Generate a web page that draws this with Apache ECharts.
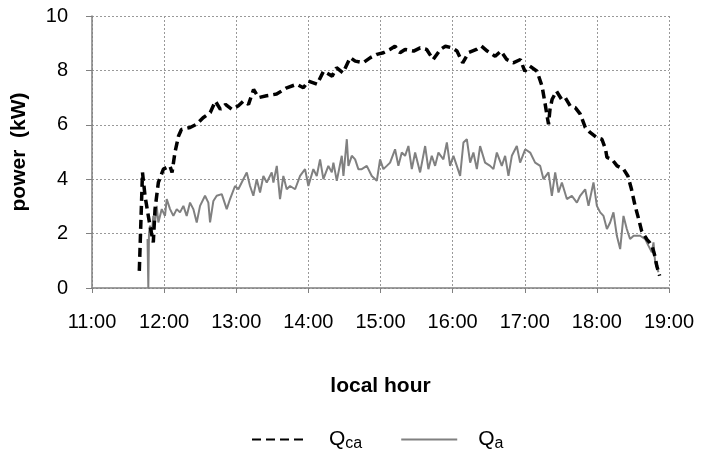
<!DOCTYPE html>
<html>
<head>
<meta charset="utf-8">
<script src="https://cdn.jsdelivr.net/npm/echarts@6/dist/echarts.min.js"></script>
<style>
  html, body { margin: 0; padding: 0; background: #fff; }
  #chart { width: 701px; height: 458px; }
</style>
</head>
<body>
<div id="chart"></div>
<script>
// time axis ticks (hours)
var hourTicks = [11, 12, 13, 14, 15, 16, 17, 18, 19];

// Qca - dashed black
var caHours = [11.656, 11.70, 11.735, 11.781, 11.804, 11.85, 11.874, 11.92, 11.99, 12.08, 12.11, 12.15, 12.20, 12.24, 12.36, 12.45, 12.54, 12.64, 12.71, 12.78, 12.85, 12.94, 13.03, 13.10, 13.17, 13.24, 13.31, 13.42, 13.56, 13.70, 13.84, 13.93, 14.00, 14.12, 14.21, 14.33, 14.39, 14.48, 14.58, 14.65, 14.76, 14.86, 14.95, 15.04, 15.13, 15.20, 15.27, 15.34, 15.46, 15.55, 15.64, 15.73, 15.83, 15.90, 15.99, 16.06, 16.14, 16.22, 16.33, 16.40, 16.48, 16.59, 16.67, 16.75, 16.84, 16.94, 17.00, 17.07, 17.17, 17.24, 17.28, 17.31, 17.33, 17.35, 17.38, 17.44, 17.51, 17.56, 17.63, 17.70, 17.77, 17.84, 17.91, 18.00, 18.07, 18.12, 18.14, 18.21, 18.28, 18.37, 18.43, 18.48, 18.53, 18.58, 18.62, 18.69, 18.73, 18.77, 18.79, 18.81, 18.83, 18.87];
var caPower = [0.63, 4.25, 3.39, 2.65, 2.29, 1.68, 2.9, 3.88, 4.37, 4.49, 4.25, 4.98, 5.59, 5.83, 5.9, 6.02, 6.26, 6.45, 6.87, 6.57, 6.75, 6.57, 6.7, 6.87, 6.75, 7.3, 7.0, 7.07, 7.13, 7.36, 7.49, 7.36, 7.61, 7.49, 7.97, 7.79, 8.1, 7.91, 8.47, 8.34, 8.28, 8.47, 8.59, 8.65, 8.77, 8.89, 8.65, 8.77, 8.71, 8.83, 8.77, 8.4, 8.77, 8.89, 8.83, 8.71, 8.28, 8.65, 8.77, 8.89, 8.71, 8.52, 8.71, 8.4, 8.28, 8.4, 7.97, 8.16, 7.97, 7.42, 6.81, 6.32, 6.02, 6.57, 6.94, 7.24, 6.94, 7.0, 6.69, 6.63, 6.39, 5.9, 5.71, 5.53, 5.47, 5.1, 4.8, 4.73, 4.49, 4.37, 4.12, 3.63, 3.02, 2.53, 2.1, 1.8, 1.68, 1.5, 1.43, 1.12, 0.82, 0.45];

// Qa - solid grey
var aHours = [11.77, 11.781, 11.79, 11.804, 11.828, 11.85, 11.874, 11.897, 11.92, 11.967, 12.012, 12.036, 12.082, 12.128, 12.175, 12.22, 12.267, 12.313, 12.359, 12.405, 12.452, 12.498, 12.567, 12.613, 12.637, 12.683, 12.729, 12.799, 12.868, 12.914, 12.983, 13.029, 13.098, 13.146, 13.191, 13.237, 13.284, 13.33, 13.376, 13.423, 13.492, 13.515, 13.562, 13.607, 13.653, 13.70, 13.746, 13.816, 13.885, 13.954, 14.0, 14.069, 14.116, 14.162, 14.208, 14.277, 14.325, 14.347, 14.394, 14.463, 14.486, 14.533, 14.555, 14.602, 14.648, 14.693, 14.74, 14.81, 14.879, 14.949, 14.994, 15.04, 15.087, 15.133, 15.202, 15.248, 15.295, 15.341, 15.387, 15.434, 15.48, 15.549, 15.619, 15.664, 15.711, 15.757, 15.803, 15.872, 15.92, 15.965, 16.011, 16.058, 16.104, 16.15, 16.197, 16.243, 16.288, 16.336, 16.381, 16.45, 16.52, 16.566, 16.613, 16.682, 16.728, 16.774, 16.821, 16.89, 16.936, 17.006, 17.075, 17.144, 17.214, 17.26, 17.329, 17.376, 17.422, 17.468, 17.515, 17.584, 17.653, 17.723, 17.768, 17.838, 17.884, 17.953, 18.0, 18.046, 18.092, 18.139, 18.184, 18.23, 18.277, 18.323, 18.369, 18.415, 18.46, 18.51, 18.6, 18.67, 18.716, 18.762, 18.785, 18.808, 18.854];
var aPower = [1.8, 0, 2.0, 2.29, 1.92, 2.65, 2.41, 3.02, 2.41, 2.9, 2.65, 3.27, 2.9, 2.65, 2.9, 2.78, 3.02, 2.65, 3.14, 2.9, 2.41, 3.02, 3.39, 3.14, 2.41, 3.2, 3.39, 3.45, 2.9, 3.27, 3.75, 3.63, 4.0, 4.25, 3.75, 3.39, 4.0, 3.51, 4.12, 3.88, 4.25, 3.88, 4.49, 3.27, 4.12, 3.63, 3.75, 3.63, 4.12, 4.37, 3.75, 4.37, 4.12, 4.73, 4.0, 4.49, 4.25, 4.61, 3.94, 4.86, 4.12, 5.47, 4.49, 4.86, 4.73, 4.37, 4.37, 4.49, 4.12, 3.94, 4.73, 4.37, 4.49, 4.61, 5.1, 4.49, 4.98, 4.86, 5.22, 4.37, 4.98, 4.25, 5.22, 4.37, 4.86, 4.49, 4.98, 4.73, 5.35, 4.49, 4.86, 4.49, 4.12, 5.35, 5.47, 4.61, 4.98, 4.37, 5.22, 4.61, 4.49, 4.37, 4.98, 4.49, 4.86, 4.12, 4.86, 5.22, 4.61, 5.1, 4.98, 4.61, 4.49, 4.0, 4.25, 3.39, 4.25, 3.51, 3.88, 3.27, 3.39, 3.14, 3.39, 3.63, 3.02, 3.88, 3.02, 2.78, 2.65, 2.17, 2.41, 2.78, 1.92, 1.43, 2.65, 2.17, 1.8, 1.92, 1.92, 1.8, 1.55, 1.31, 1.68, 0.94, 0.58];

function pairs(xs, ys) {
    var out = [];
    for (var i = 0; i < xs.length; i++) {
        out.push([xs[i], ys[i]]);
    }
    return out;
}

var myChart = echarts.init(document.getElementById('chart'));
var font = 'Liberation Sans, Arial, sans-serif';
var option = {
    animation: false,
    textStyle: { fontFamily: font },
    grid: { left: 92, right: 32, top: 16, bottom: 170 },
    legend: {
        top: 424,
        left: 246,
        itemWidth: 56,
        itemHeight: 14,
        itemGap: 38,
        data: ['Qca', 'Qa'],
        itemStyle: { opacity: 0 },
        formatter: function (name) {
            return name === 'Qca' ? '{m|Q}{s|ca}' : '{m|Q}{s|a}';
        },
        textStyle: {
            padding: [0, 0, 0, 16],
            rich: {
                m: { fontSize: 21, color: '#000', fontFamily: font },
                s: { fontSize: 16, color: '#000', fontFamily: font, padding: [9, 0, 0, 0] }
            }
        }
    },
    xAxis: {
        type: 'value',
        min: hourTicks[0],
        max: hourTicks[hourTicks.length - 1],
        interval: 1,
        name: 'local hour',
        nameLocation: 'middle',
        nameGap: 88,
        nameTextStyle: { fontSize: 21, fontWeight: 'bold', color: '#000' },
        axisLine: { lineStyle: { color: '#808080', width: 1.5 } },
        axisTick: { show: true, inside: false, length: 5, lineStyle: { color: '#808080' } },
        axisLabel: {
            fontSize: 20, color: '#000', margin: 24,
            formatter: function (v) { return v + ':00'; }
        },
        splitLine: { show: true, lineStyle: { color: '#999', type: [2, 2], width: 1 } }
    },
    yAxis: {
        type: 'value',
        min: 0,
        max: 10,
        interval: 2,
        name: 'power  (kW)',
        nameLocation: 'middle',
        nameGap: 62,
        nameRotate: 90,
        nameTextStyle: { fontSize: 21, fontWeight: 'bold', color: '#000' },
        axisLine: { show: true, lineStyle: { color: '#808080', width: 1.5 } },
        axisTick: { show: true, inside: false, length: 6, lineStyle: { color: '#808080' } },
        axisLabel: { fontSize: 20, color: '#000', margin: 24 },
        splitLine: { show: true, lineStyle: { color: '#999', type: [2, 2], width: 1 } }
    },
    series: [{
        name: 'Qca',
        type: 'line',
        symbol: 'none',
        z: 3,
        data: pairs(caHours, caPower),
        itemStyle: { color: '#000' },
        lineStyle: { color: '#000', width: 3.5, type: [9, 5] }
    }, {
        name: 'Qa',
        type: 'line',
        symbol: 'none',
        z: 2,
        data: pairs(aHours, aPower),
        itemStyle: { color: '#808080' },
        lineStyle: { color: '#808080', width: 2 }
    }]
};
myChart.setOption(option);
</script>
</body>
</html>
